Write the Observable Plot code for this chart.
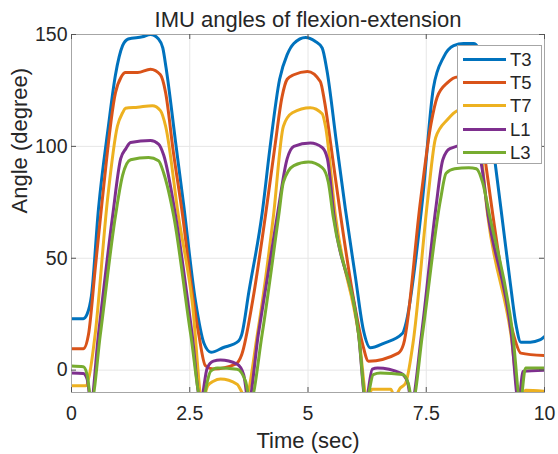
<!DOCTYPE html>
<html>
<head>
<meta charset="utf-8">
<script src="https://cdn.jsdelivr.net/npm/d3@7"></script>
<script src="https://cdn.jsdelivr.net/npm/@observablehq/plot@0.6"></script>
<style>
  html, body { margin: 0; padding: 0; background: #fff; }
  #wrap { position: relative; width: 558px; height: 454px; font-family: "Liberation Sans", Arial, sans-serif; }
  #legend { position: absolute; left: 457px; top: 45px; width: 85px; height: 119px; border: 1px solid #a6a6a6; background: #fff; box-sizing: border-box; }
  .row { position: absolute; left: 0; height: 23px; width: 100%; }
  .sw { position: absolute; left: 5px; width: 43px; height: 3px; top: 10px; }
  .lb { position: absolute; left: 52px; top: 0; font-size: 18.5px; line-height: 23px; color: #262626; }
</style>
</head>
<body>
<div id="wrap"></div>
<script>
// ---- data ----
const seriesNames = ["T3", "T5", "T7", "L1", "L3"];
const seriesColors = ["#0072BD", "#D95319", "#EDB120", "#7E2F8E", "#77AC30"];

const tT3 = [0, 0.25, 0.33, 0.42, 0.57, 0.78, 0.93, 1.08, 1.2, 1.5, 1.67, 1.84, 1.93, 2.0, 2.2, 2.37, 2.62, 2.8, 2.95, 3.2, 3.53, 3.6, 3.75, 4.03, 4.2, 4.4, 4.56, 4.7, 4.95, 5.15, 5.3, 5.4, 5.6, 5.79, 6.0, 6.17, 6.32, 6.6, 7.0, 7.06, 7.42, 7.65, 7.87, 8.08, 8.29, 8.5, 8.6, 8.7, 8.9, 9.08, 9.27, 9.4, 9.5, 9.7, 9.9, 10];
const vT3 = [23, 23, 25, 33, 72, 109, 132, 145, 148, 149, 150, 148, 144, 135, 102, 74, 31, 12, 8, 10, 13, 16, 35, 70, 100, 130, 141, 146, 148.7, 147, 144, 134, 102, 72, 42, 18, 10, 12, 16.5, 20, 76, 126, 140, 145, 146, 146, 144, 136, 102, 72, 40, 20, 12.5, 12.5, 13.5, 15];

const tT5 = [0, 0.25, 0.36, 0.5, 0.65, 0.93, 1.05, 1.14, 1.4, 1.67, 1.88, 1.99, 2.15, 2.35, 2.55, 2.69, 2.83, 3.0, 3.47, 3.6, 3.83, 4.1, 4.3, 4.45, 4.56, 4.7, 4.99, 5.26, 5.35, 5.5, 5.69, 5.97, 6.15, 6.28, 6.91, 7.02, 7.38, 7.6, 7.73, 7.95, 8.16, 8.48, 8.57, 8.72, 8.91, 9.19, 9.37, 9.5, 10];
const vT5 = [9.5, 9.5, 16, 45, 76, 124, 131, 133, 133, 134.5, 132, 124, 98, 69, 35, 16, 2, 0.5, 2.7, 7, 31, 69, 100, 122, 130, 132, 133.5, 129, 120, 98, 69, 31, 12, 4, 7.6, 11.6, 76, 110, 122, 128.5, 131, 129, 120, 98, 69, 31, 14, 7.6, 6.5];

const tT7 = [0, 0.3, 0.38, 0.5, 0.76, 0.97, 1.08, 1.14, 1.4, 1.71, 1.88, 1.99, 2.26, 2.55, 2.77, 2.88, 3.0, 3.15, 3.5, 3.68, 3.93, 4.27, 4.48, 4.67, 5.05, 5.3, 5.37, 5.58, 6.07, 6.26, 6.35, 6.75, 6.83, 6.95, 7.06, 7.22, 7.53, 7.7, 7.95, 8.16, 8.4, 8.52, 8.59, 8.8, 9.29, 9.48, 9.6, 10];
const vT7 = [-7, -7, -2, 16, 76, 109, 115, 117, 117.5, 118.2, 116, 109, 69, 31, -14, -7, -5, -4, -6.3, -12, 16, 69, 109, 115, 117.3, 114.6, 109, 69, 16, -14, -8.5, -8.5, -12, -8, -6, 12, 76, 104, 112, 116, 117, 114.6, 109, 69, 16, -14, -9, -9.5];

const tL1 = [0, 0.25, 0.33, 0.41, 0.57, 0.87, 1.04, 1.15, 1.25, 1.67, 1.84, 1.95, 2.2, 2.55, 2.73, 2.87, 3.0, 3.15, 3.5, 3.64, 3.74, 3.95, 4.35, 4.56, 4.7, 5.05, 5.3, 5.41, 5.55, 6.07, 6.22, 6.36, 6.47, 6.96, 7.1, 7.19, 7.4, 7.7, 7.85, 8.0, 8.3, 8.5, 8.64, 8.81, 9.3, 9.45, 9.55, 10];
const vL1 = [-1.3, -1.5, -4, -14, 16, 69, 94.5, 99, 101.7, 102.6, 101, 96, 69, 16, -14, 1, 4, 4.5, 2.7, -2, -14, 16, 69, 94.5, 100, 101.5, 99.5, 94.5, 69, 16, -14, 0.5, 1, -1.3, -5, -14, 16, 72, 94, 99, 100.5, 99, 94.5, 69, 16, -14, -0.5, 0];

const tL3 = [0, 0.25, 0.33, 0.42, 0.61, 0.93, 1.08, 1.25, 1.63, 1.84, 1.95, 2.16, 2.52, 2.75, 2.94, 3.08, 3.5, 3.68, 3.78, 4.03, 4.38, 4.48, 4.7, 5.01, 5.3, 5.43, 5.53, 6.07, 6.23, 6.38, 6.53, 7.0, 7.12, 7.21, 7.42, 7.8, 7.92, 8.1, 8.4, 8.56, 8.69, 8.84, 9.33, 9.49, 9.6, 10];
const vL3 = [1.8, 1.5, -2, -14, 16, 69, 87, 94, 95, 93.6, 88, 69, 16, -14, -0.5, 1, 0.4, -5, -14, 16, 69, 84, 91.4, 93, 90.5, 84, 69, 16, -14, -2, -1.3, -2, -6, -14, 16, 76, 88, 90, 90.5, 90, 84, 69, 16, -14, 1, 1];

const xTicks = [0, 2.5, 5, 7.5, 10];
const xTickLabels = ["0", "2.5", "5", "7.5", "10"];
const yTicks = [0, 50, 100, 150];
const yTickLabels = ["0", "50", "100", "150"];
const titleText = "IMU angles of flexion-extension";
const xLabel = "Time (sec)";
const yLabel = "Angle (degree)";

// ---- build ----
const seriesT = [tT3, tT5, tT7, tL1, tL3];
const seriesV = [vT3, vT5, vT7, vL1, vL3];
const rows = seriesNames.flatMap((s, k) => seriesT[k].map((t, i) => ({s, t, v: seriesV[k][i]})));

const W = 558, H = 454, mL = 71, mR = 14, mT = 34, mB = 62;
const fw = W - mL - mR, fh = H - mT - mB;
const txt = "#262626";

const chart = Plot.plot({
  width: W, height: H,
  marginLeft: mL, marginRight: mR, marginTop: mT, marginBottom: mB,
  style: {fontFamily: '"Liberation Sans", Arial, sans-serif', background: "#fff", color: txt},
  x: {domain: [0, 10], axis: null},
  y: {domain: [-10, 150], axis: null},
  color: {domain: seriesNames, range: seriesColors},
  marks: [
    Plot.ruleX(xTicks, {x: d => d, stroke: "#e6e6e6", strokeWidth: 1}),
    Plot.ruleY(yTicks, {y: d => d, stroke: "#e6e6e6", strokeWidth: 1}),
    Plot.line(rows, {x: "t", y: "v", z: "s", stroke: "s", strokeWidth: 3, curve: "monotone-x", strokeLinejoin: "round", clip: true}),
    Plot.frame({stroke: "#a6a6a6", strokeWidth: 1}),
    Plot.ruleX(xTicks, {x: d => d, stroke: "#555", insetTop: fh - 5}),
    Plot.ruleX(xTicks, {x: d => d, stroke: "#555", insetBottom: fh - 5}),
    Plot.ruleY(yTicks, {y: d => d, stroke: "#555", insetRight: fw - 5}),
    Plot.ruleY(yTicks, {y: d => d, stroke: "#555", insetLeft: fw - 5}),
    Plot.text(xTicks, {x: d => d, text: (d, i) => xTickLabels[i], frameAnchor: "bottom", lineAnchor: "middle", dy: 21, fontSize: 19.5, fill: txt}),
    Plot.text(yTicks, {y: d => d, text: (d, i) => yTickLabels[i], frameAnchor: "left", textAnchor: "end", lineAnchor: "middle", dx: -4, fontSize: 19.5, fill: txt}),
    Plot.text([titleText], {frameAnchor: "top", lineAnchor: "middle", dy: -15, fontSize: 22, fill: txt}),
    Plot.text([xLabel], {frameAnchor: "bottom", lineAnchor: "middle", dy: 48, fontSize: 22, fill: txt}),
    Plot.text([yLabel], {frameAnchor: "left", lineAnchor: "middle", rotate: -90, dx: -52, fontSize: 22, fill: txt})
  ]
});

const wrap = document.getElementById("wrap");
wrap.appendChild(chart);

const legend = document.createElement("div");
legend.id = "legend";
seriesNames.forEach((s, i) => {
  const row = document.createElement("div");
  row.className = "row";
  row.style.top = (2 + i * 23.2) + "px";
  const sw = document.createElement("div");
  sw.className = "sw";
  sw.style.background = seriesColors[i];
  const lb = document.createElement("div");
  lb.className = "lb";
  lb.textContent = s;
  row.appendChild(sw); row.appendChild(lb);
  legend.appendChild(row);
});
wrap.appendChild(legend);
</script>
</body>
</html>
